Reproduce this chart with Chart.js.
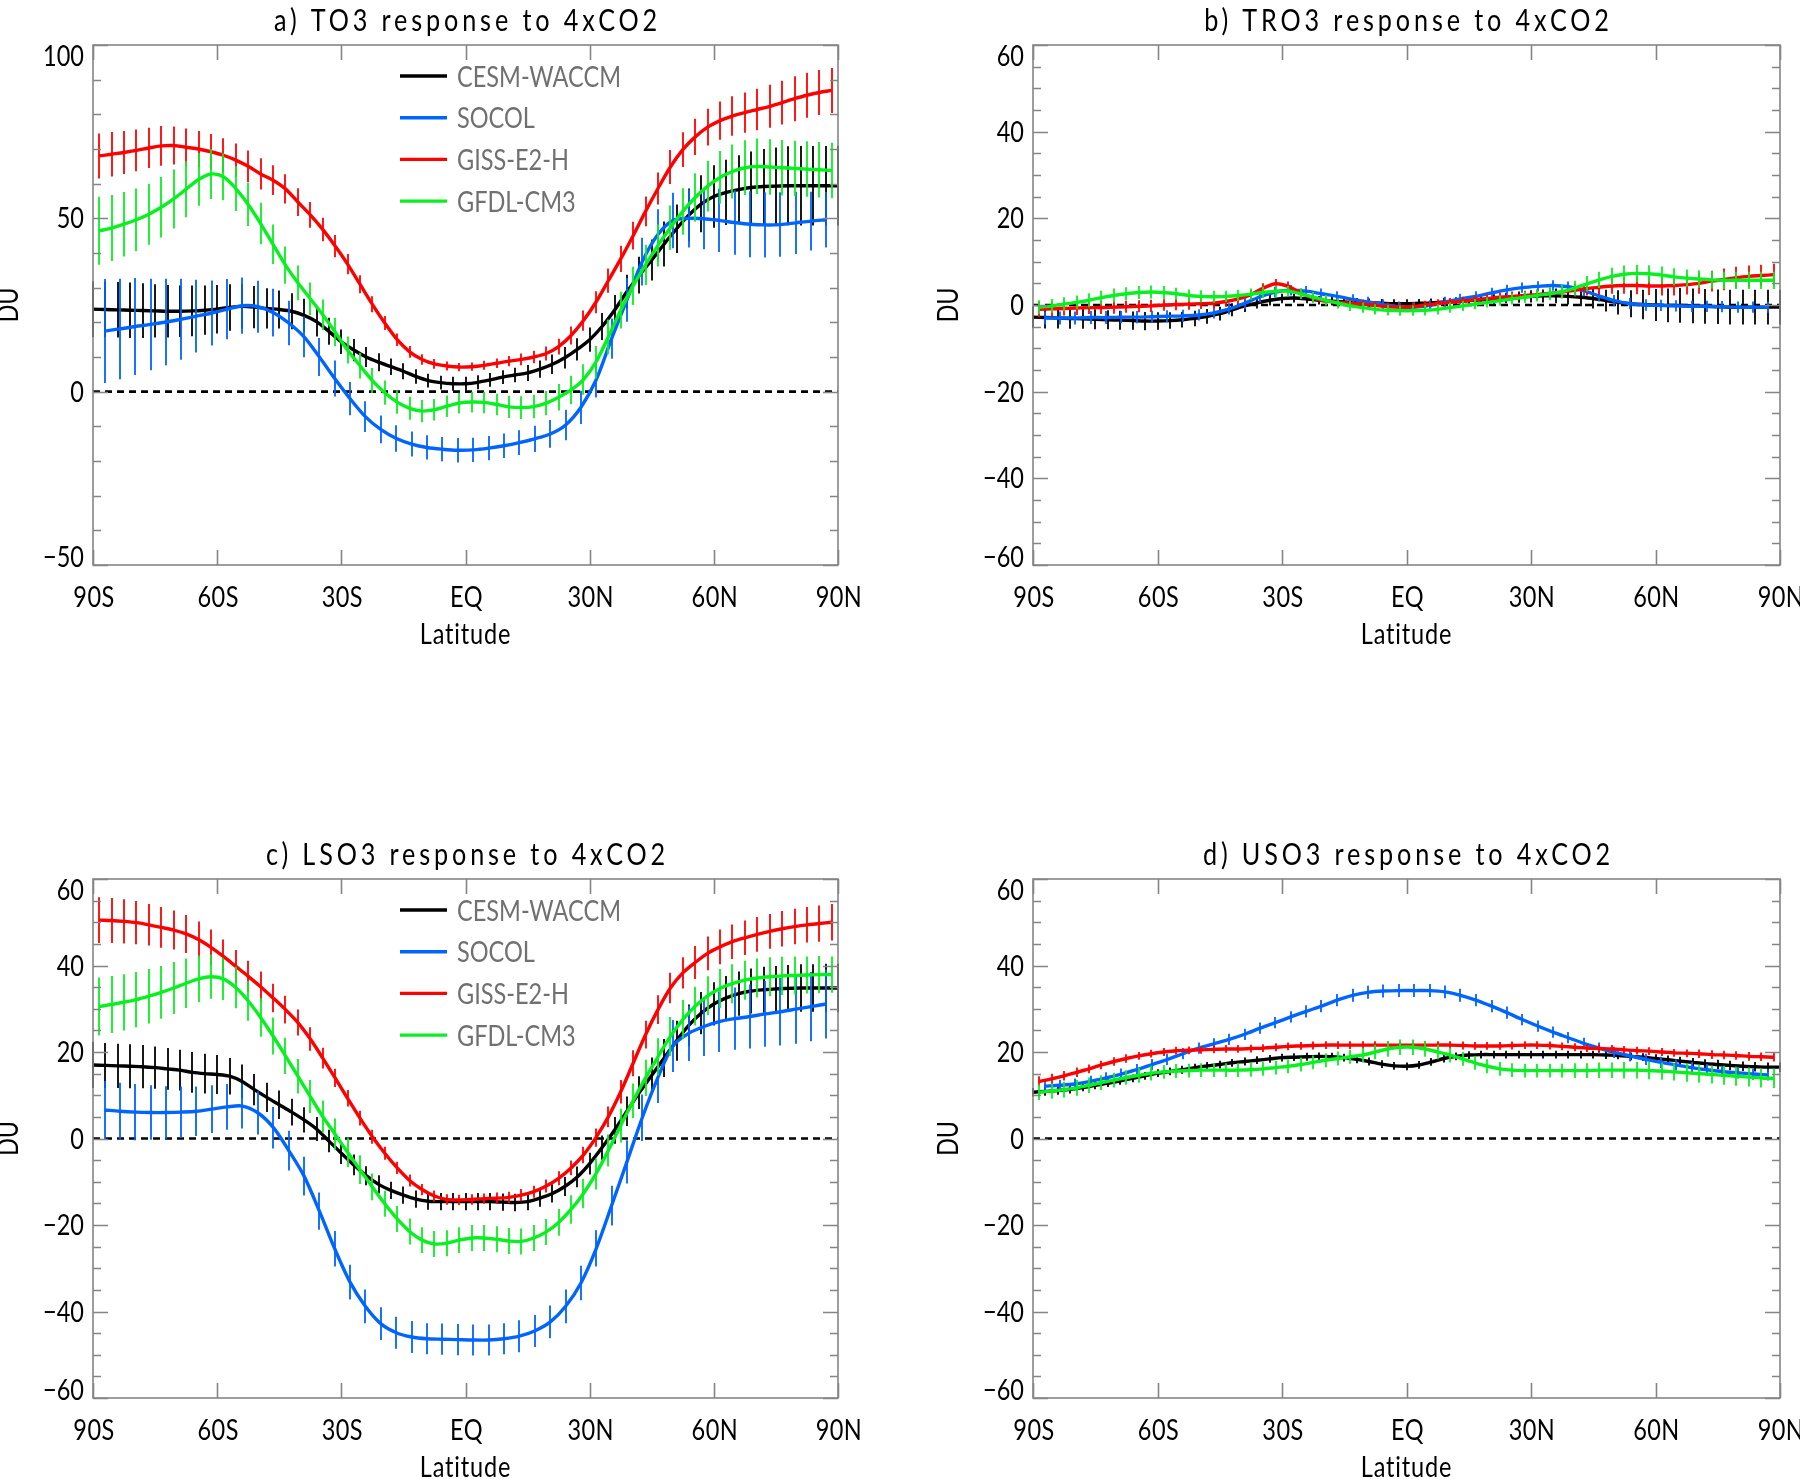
<!DOCTYPE html>
<html><head><meta charset="utf-8">
<script src="https://cdn.jsdelivr.net/npm/chart.js@4.4.1/dist/chart.umd.min.js"></script>
<style>
html,body{margin:0;padding:0;background:#fff;width:1800px;height:1479px;overflow:hidden;}
canvas{position:absolute;}
</style></head><body>
<canvas id="pa" width="900" height="700" style="left:0px;top:0px;width:900px;height:700px"></canvas>
<canvas id="pb" width="900" height="700" style="left:900px;top:0px;width:900px;height:700px"></canvas>
<canvas id="pc" width="900" height="679" style="left:0px;top:800px;width:900px;height:679px"></canvas>
<canvas id="pd" width="900" height="679" style="left:900px;top:800px;width:900px;height:679px"></canvas>
<script>
// ---------- model names / colours ----------
const models = ["CESM-WACCM", "SOCOL", "GISS-E2-H", "GFDL-CM3"];
const modelColors = ["#000000", "#0064ff", "#ff0000", "#08f020"];

// ---------- latitude grids ----------
const latCESM = [-90,-87,-84,-81,-78,-75,-72,-69,-66,-63,-60,-57,-54,-51,-48,-45,-42,-39,-36,-33,-30,-27,-24,-21,-18,-15,-12,-9,-6,-3,0,3,6,9,12,15,18,21,24,27,30,33,36,39,42,45,48,51,54,57,60,63,66,69,72,75,78,81,84,87,90];
const latSOCOL = [-87.2,-83.5,-79.8,-76.1,-72.4,-68.7,-65.0,-61.3,-57.6,-53.9,-50.1,-46.4,-42.7,-39.0,-35.3,-31.6,-27.9,-24.2,-20.5,-16.7,-13.0,-9.3,-5.6,-1.9,1.9,5.6,9.3,13.0,16.7,20.5,24.2,27.9,31.6,35.3,39.0,42.7,46.4,50.1,53.9,57.6,61.3,65.0,68.7,72.4,76.1,79.8,83.5,87.2];
const latGISS = [-88.5,-85.5,-82.5,-79.5,-76.5,-73.5,-70.5,-67.5,-64.5,-61.5,-58.5,-55.5,-52.5,-49.5,-46.5,-43.5,-40.5,-37.5,-34.5,-31.5,-28.5,-25.5,-22.5,-19.5,-16.5,-13.5,-10.5,-7.5,-4.5,-1.5,1.5,4.5,7.5,10.5,13.5,16.5,19.5,22.5,25.5,28.5,31.5,34.5,37.5,40.5,43.5,46.5,49.5,52.5,55.5,58.5,61.5,64.5,67.5,70.5,73.5,76.5,79.5,82.5,85.5,88.5];
const latGFDL = [-88.5,-85.5,-82.5,-79.5,-76.5,-73.5,-70.5,-67.5,-64.5,-61.5,-58.5,-55.5,-52.5,-49.5,-46.5,-43.5,-40.5,-37.5,-34.5,-31.5,-28.5,-25.5,-22.5,-19.5,-16.5,-13.5,-10.5,-7.5,-4.5,-1.5,1.5,4.5,7.5,10.5,13.5,16.5,19.5,22.5,25.5,28.5,31.5,34.5,37.5,40.5,43.5,46.5,49.5,52.5,55.5,58.5,61.5,64.5,67.5,70.5,73.5,76.5,79.5,82.5,85.5,88.5];

// ---------- tick labels ----------
const xTickVals = [-90,-60,-30,0,30,60,90];
const xTickLabels = ["90S","60S","30S","EQ","30N","60N","90N"];
const yTicksA = [-50,0,50,100];
const yLabelsA = ["\u221250","0","50","100"];
const yTicksB = [-60,-40,-20,0,20,40,60];
const yLabelsB = ["\u221260","\u221240","\u221220","0","20","40","60"];

// ---------- a) TO3 ----------
const to_cesm = [23.8,23.7,23.6,23.5,23.4,23.3,23.2,23.2,23.3,23.5,23.8,24.3,24.6,24.4,24.0,23.7,23.2,22.0,20.2,17.4,14.4,12.0,10.0,8.5,7.2,5.9,4.4,3.2,2.6,2.3,2.3,2.7,3.4,4.2,4.8,5.4,6.5,7.9,9.8,12.2,15.0,18.8,23.5,28.8,33.6,38.0,42.6,47.0,51.0,54.2,56.3,57.5,58.3,58.9,59.2,59.3,59.4,59.4,59.4,59.4,59.4];
const to_cesm_err = [8.0,8.0,8.0,8.0,7.9,7.7,7.6,7.4,7.3,7.1,7.0,6.7,6.4,6.1,5.8,5.5,5.2,4.8,4.3,3.9,3.5,3.2,2.9,2.6,2.4,2.3,2.1,2.0,2.0,2.0,2.0,2.0,2.0,2.0,2.1,2.3,2.5,2.8,3.1,3.2,3.5,3.9,4.4,4.9,5.3,5.9,6.5,7.0,7.6,8.2,9.0,9.4,9.9,10.4,10.8,11.1,11.4,11.5,11.5,11.5,11.5];
const to_socol = [17.5,18.1,18.8,19.4,20.1,20.9,21.8,22.7,23.8,24.8,24.5,22.8,19.8,15.8,10.0,3.8,-2.0,-7.2,-10.9,-13.5,-15.1,-16.1,-16.6,-16.9,-16.8,-16.3,-15.6,-14.7,-13.6,-12.2,-9.6,-4.5,3.5,15.3,26.5,37.5,45.2,49.4,50.0,49.9,49.4,48.8,48.3,48.1,48.2,48.7,49.2,49.6];
const to_socol_err = [15.0,14.5,14.0,13.2,12.5,11.7,10.5,9.4,8.7,8.1,7.5,6.9,6.4,5.9,5.5,5.2,4.8,4.4,4.0,3.8,3.6,3.5,3.5,3.5,3.5,3.5,3.5,3.6,3.8,4.0,4.4,4.8,5.2,5.8,6.3,6.9,7.4,8.0,8.4,8.8,9.1,9.3,9.5,9.4,9.3,9.0,8.5,8.0];
const to_giss = [68.0,68.5,69.0,69.6,70.3,70.9,71.0,70.5,70.0,69.2,68.2,66.8,65.0,62.8,61.0,58.5,54.7,51.0,46.8,42.0,36.8,31.0,25.2,19.8,15.0,11.5,9.3,8.0,7.4,7.1,7.2,7.6,8.2,8.8,9.3,10.0,11.0,13.0,16.2,20.5,25.8,32.0,38.3,45.0,52.0,58.6,64.8,69.8,73.5,76.3,78.2,79.5,80.5,81.4,82.3,83.4,84.5,85.5,86.3,86.9];
const to_giss_err = [6.5,6.4,6.2,6.0,5.8,5.7,5.5,5.4,5.2,5.1,4.9,4.8,4.6,4.5,4.3,4.2,4.0,3.7,3.4,3.2,2.9,2.6,2.3,2.0,1.8,1.7,1.5,1.4,1.3,1.2,1.2,1.3,1.4,1.5,1.7,1.8,2.0,2.3,2.6,2.9,3.2,3.5,3.8,4.0,4.3,4.6,4.9,5.0,5.2,5.3,5.5,5.7,5.8,6.0,6.2,6.3,6.5,6.5,6.5,6.5];
const to_gfdl = [46.4,47.2,48.3,49.6,51.2,53.2,55.6,58.4,61.2,62.8,62.0,58.6,54.0,48.5,42.5,36.5,31.4,26.8,22.2,17.2,12.0,7.5,3.2,-0.3,-3.0,-4.8,-5.6,-5.2,-4.2,-3.3,-3.0,-3.1,-3.7,-4.4,-4.6,-4.3,-3.3,-1.6,0.5,3.5,8.5,15.8,23.5,30.5,36.6,42.2,47.3,52.0,56.0,59.3,61.8,63.5,64.6,65.0,64.8,64.6,64.4,64.2,64.0,63.8];
const to_gfdl_err = [9.8,9.5,9.3,9.0,8.8,8.7,8.5,8.1,7.6,7.2,6.8,6.5,6.2,6.0,5.7,5.4,5.0,4.7,4.4,4.1,3.9,3.7,3.6,3.5,3.4,3.3,3.2,3.1,3.1,3.0,3.0,3.1,3.1,3.2,3.3,3.4,3.5,3.8,4.1,4.4,4.7,5.0,5.3,5.5,5.8,6.1,6.4,6.7,7.0,7.3,7.6,7.8,7.9,8.0,8.0,8.0,8.0,8.0,8.0,8.0];

// ---------- b) TRO3 ----------
const tro_cesm = [-2.8,-2.9,-3.0,-3.1,-3.2,-3.3,-3.4,-3.5,-3.6,-3.7,-3.7,-3.6,-3.4,-3.1,-2.6,-2.0,-1.1,-0.2,0.5,1.1,1.5,1.6,1.4,1.1,0.9,0.7,0.6,0.5,0.4,0.3,0.3,0.4,0.5,0.7,0.8,1.0,1.2,1.4,1.6,1.8,2.0,2.1,2.1,2.0,1.8,1.5,1.0,0.6,0.3,0.1,0.0,-0.1,-0.1,-0.2,-0.3,-0.4,-0.5,-0.5,-0.5,-0.5,-0.5];
const tro_cesm_err = [2.5,2.5,2.4,2.4,2.3,2.3,2.2,2.2,2.1,2.1,2.0,1.9,1.8,1.8,1.7,1.6,1.5,1.4,1.3,1.2,1.1,1.0,1.0,1.0,1.0,1.0,1.0,1.0,1.0,1.0,1.0,1.0,1.0,1.0,1.0,1.0,1.0,1.1,1.2,1.3,1.4,1.5,1.7,1.9,2.1,2.3,2.5,2.8,3.1,3.4,3.7,3.9,4.0,4.0,4.0,4.0,4.0,4.0,4.0,4.0,4.0];
const tro_socol = [-3.0,-3.0,-3.0,-2.9,-2.9,-2.8,-2.8,-2.7,-2.6,-2.5,-2.3,-1.8,-0.9,0.4,1.9,3.0,3.4,3.2,2.6,2.0,1.3,0.7,0.1,-0.4,-0.5,-0.1,0.7,1.4,2.0,2.8,3.5,4.0,4.3,4.5,4.2,3.3,2.1,1.0,0.3,0.0,-0.1,-0.2,-0.3,-0.3,-0.4,-0.5,-0.5,-0.5];
const tro_socol_err = [1.5,1.5,1.5,1.5,1.5,1.4,1.4,1.4,1.4,1.4,1.3,1.3,1.3,1.3,1.3,1.2,1.2,1.2,1.2,1.2,1.2,1.2,1.2,1.2,1.2,1.2,1.2,1.2,1.2,1.2,1.2,1.2,1.2,1.2,1.2,1.3,1.3,1.3,1.3,1.3,1.3,1.3,1.3,1.3,1.3,1.3,1.3,1.3];
const tro_giss = [-1.0,-0.9,-0.8,-0.7,-0.6,-0.6,-0.5,-0.4,-0.3,-0.2,0.0,0.1,0.2,0.3,0.4,0.8,1.4,2.4,3.9,4.9,4.3,2.8,1.6,0.9,0.6,0.4,0.2,-0.1,-0.4,-0.5,-0.4,0.0,0.3,0.6,0.9,1.2,1.5,1.8,2.0,2.2,2.4,2.7,3.0,3.4,3.8,4.1,4.4,4.5,4.5,4.4,4.4,4.5,4.7,5.0,5.5,5.9,6.3,6.6,6.8,7.0];
const tro_giss_err = [1.8,1.7,1.6,1.6,1.5,1.5,1.5,1.4,1.4,1.4,1.3,1.3,1.3,1.2,1.2,1.2,1.2,1.2,1.1,1.1,1.1,1.0,1.0,1.0,1.0,1.0,1.0,1.0,1.0,1.0,1.0,1.0,1.0,1.0,1.0,1.0,1.0,1.0,1.1,1.1,1.2,1.3,1.4,1.5,1.6,1.7,1.8,1.9,2.0,2.1,2.2,2.3,2.3,2.4,2.4,2.5,2.5,2.5,2.5,2.5];
const tro_gfdl = [-0.5,-0.2,0.2,0.6,1.1,1.7,2.2,2.6,2.9,3.0,2.9,2.6,2.2,2.0,1.9,2.0,2.2,2.5,2.9,3.2,3.2,2.6,1.8,1.1,0.4,-0.2,-0.6,-1.0,-1.2,-1.3,-1.3,-1.2,-1.0,-0.6,-0.2,0.2,0.6,1.0,1.4,1.8,2.2,2.6,3.1,3.9,4.9,5.8,6.6,7.1,7.3,7.2,6.9,6.5,6.2,6.0,5.8,5.7,5.7,5.7,5.7,5.7];
const tro_gfdl_err = [1.6,1.6,1.6,1.6,1.6,1.6,1.6,1.5,1.5,1.5,1.5,1.4,1.4,1.4,1.4,1.3,1.3,1.3,1.3,1.3,1.2,1.2,1.2,1.2,1.2,1.2,1.2,1.2,1.2,1.2,1.2,1.2,1.2,1.2,1.2,1.2,1.2,1.2,1.3,1.3,1.4,1.5,1.6,1.7,1.8,1.9,2.0,2.0,2.0,2.0,2.0,2.0,2.0,2.0,2.0,2.0,2.0,2.0,2.0,2.0];

// ---------- c) LSO3 ----------
const lso_cesm = [17.0,16.9,16.8,16.7,16.6,16.4,16.1,15.8,15.3,15.0,14.8,14.4,13.2,11.3,9.5,7.8,6.1,4.3,2.2,-0.6,-3.4,-6.1,-8.6,-10.6,-12.0,-13.1,-14.0,-14.5,-14.6,-14.6,-14.6,-14.6,-14.6,-14.7,-14.8,-14.6,-13.8,-12.7,-11.1,-8.9,-5.8,-2.1,1.9,6.3,10.6,14.6,18.6,22.6,26.2,29.0,31.1,32.5,33.5,34.1,34.4,34.6,34.7,34.8,34.8,34.8,34.8];
const lso_cesm_err = [5.3,5.2,5.1,5.1,5.0,4.9,4.8,4.7,4.7,4.6,4.5,4.2,3.9,3.6,3.4,3.3,3.1,2.9,2.8,2.6,2.5,2.4,2.2,2.1,2.0,2.0,2.0,2.0,2.0,2.0,2.0,2.0,2.0,2.0,2.0,2.0,2.0,2.1,2.2,2.4,2.5,2.8,3.1,3.4,3.8,4.1,4.4,4.6,4.8,4.9,5.0,5.1,5.1,5.2,5.3,5.3,5.4,5.5,5.5,5.6,5.6];
const lso_socol = [6.6,6.3,6.1,6.0,6.0,6.1,6.3,6.8,7.3,7.5,5.9,2.5,-2.8,-8.7,-16.8,-25.5,-33.2,-38.8,-42.8,-44.9,-45.9,-46.3,-46.4,-46.5,-46.6,-46.6,-46.3,-45.7,-44.5,-42.4,-38.8,-33.4,-25.4,-15.5,-5.4,4.8,13.9,21.4,24.3,25.9,27.0,27.7,28.2,28.8,29.3,29.9,30.5,31.1];
const lso_socol_err = [6.7,6.6,6.5,6.3,6.1,5.9,5.7,5.5,5.3,5.2,5.0,4.8,4.6,4.5,4.3,4.1,4.0,3.9,3.8,3.7,3.7,3.6,3.6,3.6,3.6,3.6,3.6,3.7,3.7,3.8,3.9,4.0,4.2,4.6,5.0,5.4,5.7,6.0,6.4,6.8,7.0,7.2,7.4,7.6,7.8,8.0,8.0,8.0];
const lso_giss = [50.5,50.4,50.2,49.9,49.4,48.8,48.2,47.3,46.0,44.2,42.1,39.8,37.5,35.1,32.5,29.8,26.8,23.0,18.6,14.0,9.3,4.7,0.4,-3.4,-6.8,-9.7,-11.8,-13.3,-14.1,-14.2,-14.1,-13.9,-13.8,-13.6,-13.1,-12.3,-11.0,-9.2,-6.8,-3.8,0.2,5.0,10.8,17.4,24.0,29.8,34.8,38.3,40.7,42.8,44.3,45.5,46.4,47.2,47.9,48.5,49.0,49.4,49.7,50.0];
const lso_giss_err = [5.3,5.2,5.1,5.0,4.8,4.7,4.5,4.4,4.2,4.1,3.9,3.8,3.6,3.5,3.3,3.2,3.0,2.7,2.4,2.1,1.9,1.7,1.6,1.5,1.4,1.4,1.3,1.3,1.2,1.2,1.2,1.2,1.3,1.3,1.4,1.4,1.5,1.6,1.7,1.9,2.1,2.4,2.7,3.0,3.2,3.3,3.5,3.6,3.8,3.9,4.0,4.0,4.0,4.0,4.0,4.1,4.1,4.1,4.2,4.2];
const lso_gfdl = [30.5,31.0,31.5,32.1,32.9,33.8,34.8,35.9,36.9,37.4,36.9,34.9,31.8,28.0,23.7,19.1,14.4,9.7,5.1,1.0,-3.2,-7.2,-11.2,-15.1,-18.6,-21.5,-23.5,-24.4,-24.2,-23.5,-23.0,-23.0,-23.3,-23.7,-23.8,-23.0,-21.6,-19.4,-16.4,-12.7,-8.2,-2.8,3.0,8.7,14.0,18.9,23.6,27.5,30.6,33.0,34.7,35.8,36.6,37.1,37.4,37.6,37.7,37.8,37.9,37.9];
const lso_gfdl_err = [6.7,6.6,6.5,6.4,6.3,6.1,6.0,5.7,5.4,5.1,4.9,4.8,4.6,4.5,4.3,4.2,4.0,3.8,3.7,3.6,3.4,3.3,3.1,3.0,3.0,3.0,3.0,3.0,3.0,3.0,3.0,3.0,3.0,3.0,3.0,3.0,3.0,3.1,3.3,3.4,3.6,3.7,3.9,4.0,4.2,4.3,4.5,4.5,4.5,4.5,4.5,4.5,4.5,4.5,4.5,4.4,4.4,4.3,4.3,4.2];

// ---------- d) USO3 ----------
const uso_cesm = [10.7,10.9,11.1,11.4,11.8,12.3,12.8,13.3,13.9,14.5,15.1,15.5,15.9,16.4,16.8,17.1,17.5,17.8,18.1,18.4,18.7,18.8,18.9,19.0,18.9,18.7,18.3,17.8,17.2,16.8,16.7,17.0,17.7,18.5,19.0,19.3,19.4,19.4,19.4,19.4,19.4,19.4,19.4,19.4,19.4,19.4,19.3,19.2,19.0,18.8,18.5,18.2,17.9,17.6,17.3,17.1,16.9,16.7,16.6,16.5,16.5];
const uso_cesm_err = [1.0,1.0,1.0,1.0,0.9,0.9,0.9,0.9,0.9,0.9,0.9,0.9,0.9,0.9,0.9,0.9,0.9,0.9,0.9,0.9,0.9,0.9,0.9,0.9,0.9,0.9,0.9,0.9,0.9,0.9,0.9,0.9,0.9,0.9,0.9,0.9,0.9,0.9,0.9,0.9,0.9,0.9,0.9,0.9,0.9,0.9,0.9,0.9,0.9,0.9,1.0,1.0,1.0,1.0,1.0,1.1,1.1,1.1,1.1,1.1,1.1];
const uso_socol = [12.1,12.3,12.6,13.2,14.0,14.9,15.9,17.1,18.3,19.6,20.9,21.9,22.9,24.1,25.5,26.8,28.1,29.4,30.6,32.0,33.1,33.8,34.1,34.2,34.2,34.2,33.9,33.1,32.0,30.6,29.1,27.5,26.0,24.6,23.3,22.0,20.9,19.9,19.1,18.3,17.6,17.0,16.4,15.9,15.5,15.2,14.9,14.7];
const uso_socol_err = [1.3,1.3,1.3,1.3,1.3,1.3,1.3,1.3,1.3,1.3,1.3,1.3,1.3,1.3,1.3,1.3,1.3,1.4,1.4,1.4,1.5,1.5,1.5,1.5,1.5,1.5,1.5,1.5,1.4,1.4,1.4,1.3,1.3,1.3,1.3,1.3,1.3,1.3,1.3,1.3,1.3,1.3,1.3,1.3,1.3,1.3,1.3,1.3];
const uso_giss = [13.2,13.8,14.5,15.3,16.1,17.0,17.8,18.5,19.1,19.6,20.0,20.3,20.4,20.5,20.6,20.7,20.7,20.8,20.9,21.1,21.3,21.4,21.5,21.6,21.6,21.6,21.6,21.6,21.6,21.6,21.6,21.6,21.6,21.6,21.5,21.4,21.4,21.4,21.5,21.6,21.6,21.5,21.3,21.1,20.9,20.8,20.7,20.5,20.3,20.2,20.0,19.8,19.7,19.6,19.4,19.3,19.2,19.0,18.9,18.8];
const uso_giss_err = [1.2,1.2,1.1,1.1,1.0,1.0,1.0,1.0,0.9,0.9,0.9,0.9,0.9,0.9,0.9,0.9,0.9,0.9,0.9,0.9,0.9,0.9,0.9,0.9,0.9,0.9,0.9,0.9,0.9,0.9,0.9,0.9,0.9,0.9,0.9,0.9,0.9,0.9,0.9,0.9,0.9,0.9,0.9,0.9,0.9,0.9,0.9,0.9,0.9,0.9,0.9,0.9,0.9,1.0,1.0,1.0,1.0,1.0,1.0,1.0];
const uso_gfdl = [10.7,11.0,11.3,11.7,12.3,12.9,13.5,14.1,14.6,15.1,15.4,15.6,15.7,15.8,15.8,15.8,15.8,15.9,16.1,16.4,16.7,17.1,17.6,18.1,18.5,18.9,19.3,20.0,20.7,21.1,21.1,20.7,20.0,19.3,18.4,17.5,16.7,16.1,15.8,15.7,15.7,15.7,15.7,15.7,15.7,15.8,15.8,15.8,15.8,15.7,15.6,15.4,15.2,15.0,14.8,14.6,14.4,14.2,14.0,13.9];
const uso_gfdl_err = [1.8,1.8,1.8,1.8,1.8,1.7,1.7,1.7,1.7,1.7,1.6,1.6,1.6,1.6,1.6,1.6,1.6,1.6,1.6,1.6,1.6,1.6,1.6,1.6,1.6,1.6,1.7,1.7,1.8,1.8,1.8,1.8,1.7,1.7,1.6,1.6,1.6,1.6,1.6,1.6,1.6,1.6,1.6,1.7,1.7,1.8,1.8,1.9,1.9,2.0,2.0,2.0,2.1,2.1,2.1,2.2,2.2,2.2,2.2,2.2];

// ---------- drawing helpers ----------
const FONT = 'Lato,"Liberation Sans","DejaVu Sans",sans-serif';
const SX = 0.84; // horizontal squeeze to mimic the narrow plotting font

function pts(lat, vals) { return lat.map((x, i) => ({ x: x, y: vals[i] })); }

function txt(ctx, s, x, y, align, font, spacing, color) {
  ctx.save();
  ctx.font = font;
  ctx.letterSpacing = spacing;
  ctx.fillStyle = color;
  ctx.textAlign = align;
  ctx.textBaseline = 'alphabetic';
  ctx.translate(x, y);
  ctx.scale(SX, 1);
  ctx.fillText(s, 0, 0);
  ctx.restore();
}

const idlFrame = {
  id: 'idlFrame',
  beforeDatasetsDraw(chart) {
    const { ctx, chartArea: a } = chart;
    const y0 = chart.scales.y.getPixelForValue(0);
    ctx.save();
    ctx.strokeStyle = '#000'; ctx.lineWidth = 2.6; ctx.setLineDash([7, 5]);
    ctx.beginPath(); ctx.moveTo(a.left, y0); ctx.lineTo(a.right, y0); ctx.stroke();
    ctx.restore();
  },
  afterDatasetDraw(chart, args) {
    const ds = chart.data.datasets[args.index];
    const err = ds.err; if (!err) return;
    const ctx = chart.ctx, xs = chart.scales.x, ys = chart.scales.y;
    ctx.save();
    ctx.strokeStyle = ds.borderColor; ctx.lineWidth = 1.8;
    ctx.beginPath();
    ds.data.forEach((p, i) => {
      if (err[i] == null || p.y == null) return;
      const px = Math.round(xs.getPixelForValue(p.x));
      ctx.moveTo(px, ys.getPixelForValue(p.y - err[i]));
      ctx.lineTo(px, ys.getPixelForValue(p.y + err[i]));
    });
    ctx.stroke();
    ctx.restore();
  },
  afterDraw(chart) {
    const o = chart.options.plugins.idlFrame;
    const { ctx, chartArea: a } = chart;
    const xs = chart.scales.x, ys = chart.scales.y;
    ctx.save();
    ctx.strokeStyle = '#858585'; ctx.lineWidth = 1.6; ctx.setLineDash([]);
    ctx.strokeRect(a.left, a.top, a.right - a.left, a.bottom - a.top);
    ctx.beginPath();
    for (let v = o.yMin; v <= o.yMax + 1e-9; v += o.yMinor) {
      const py = Math.round(ys.getPixelForValue(v)) + 0.5;
      const L = o.yTicks.includes(Math.round(v)) ? 15 : 8;
      ctx.moveTo(a.left, py); ctx.lineTo(a.left + L, py);
      ctx.moveTo(a.right, py); ctx.lineTo(a.right - L, py);
    }
    xTickVals.forEach(v => {
      const px = Math.round(xs.getPixelForValue(v)) + 0.5;
      ctx.moveTo(px, a.bottom); ctx.lineTo(px, a.bottom - 15);
      ctx.moveTo(px, a.top); ctx.lineTo(px, a.top + 15);
    });
    ctx.stroke();
    ctx.restore();

    const F28 = '28px ' + FONT;
    o.yTicks.forEach((v, i) => {
      const py = ys.getPixelForValue(v);
      let base = py + 10;
      if (v === o.yMax) base = a.top + 21;
      if (v === o.yMin) base = a.bottom + 2;
      txt(ctx, o.yLabels[i], a.left - 9, base, 'right', F28, '0px', '#000');
    });
    xTickVals.forEach((v, i) => {
      txt(ctx, xTickLabels[i], xs.getPixelForValue(v) + 1, a.bottom + 42, 'center', F28, '0.5px', '#000');
    });
    const cx = (a.left + a.right) / 2;
    txt(ctx, 'Latitude', cx, a.bottom + 79, 'center', F28, '1px', '#000');
    ctx.save();
    ctx.translate(a.left - 75, (a.top + a.bottom) / 2);
    ctx.rotate(-Math.PI / 2);
    ctx.font = F28; ctx.fillStyle = '#000'; ctx.textAlign = 'center'; ctx.textBaseline = 'alphabetic';
    ctx.scale(SX, 1);
    ctx.fillText('DU', 0, 0);
    ctx.restore();
    txt(ctx, o.title, cx + 2, a.top - 14, 'center', '30px ' + FONT, '4.6px', '#000');
    if (o.legend) {
      models.forEach((m, i) => {
        const ly = a.top + 31 + i * 41.7;
        ctx.save();
        ctx.strokeStyle = modelColors[i]; ctx.lineWidth = 3.4;
        ctx.beginPath(); ctx.moveTo(a.left + 307, ly); ctx.lineTo(a.left + 354, ly); ctx.stroke();
        ctx.restore();
        txt(ctx, m, a.left + 364, ly + 10.5, 'left', '28px ' + FONT, '0px', '#707070');
      });
    }
  }
};

function makePanel(id, title, series, yMin, yMax, yMinor, yTicks, yLabels, legend, pad) {
  const lats = [latCESM, latSOCOL, latGISS, latGFDL];
  const datasets = series.map((s, i) => ({
    label: models[i],
    data: pts(lats[i], s[0]),
    err: s[1],
    borderColor: modelColors[i],
    backgroundColor: modelColors[i],
    borderWidth: 3.4,
    pointRadius: 0,
    tension: 0.3,
    fill: false,
    order: 3 - i
  }));
  new Chart(document.getElementById(id), {
    type: 'line',
    data: { datasets },
    plugins: [idlFrame],
    options: {
      responsive: false, animation: false, devicePixelRatio: 1,
      layout: { padding: pad },
      scales: {
        x: { type: 'linear', min: -90, max: 90, display: false },
        y: { type: 'linear', min: yMin, max: yMax, display: false }
      },
      plugins: {
        legend: { display: false }, tooltip: { enabled: false }, title: { display: false },
        idlFrame: { title, yMin, yMax, yMinor, yTicks, yLabels, legend }
      }
    }
  });
}

const padLeftCol = { left: 93, right: 62, top: 45, bottom: 135 };
const padRightCol = { left: 133, right: 20, top: 45, bottom: 135 };
const padLeftColB = { left: 93, right: 62, top: 79, bottom: 81 };
const padRightColB = { left: 133, right: 20, top: 79, bottom: 81 };

makePanel('pa', 'a) TO3 response to 4xCO2',
  [[to_cesm, to_cesm_err], [to_socol, to_socol_err], [to_giss, to_giss_err], [to_gfdl, to_gfdl_err]],
  -50, 100, 10, yTicksA, yLabelsA, true, padLeftCol);
makePanel('pb', 'b) TRO3 response to 4xCO2',
  [[tro_cesm, tro_cesm_err], [tro_socol, tro_socol_err], [tro_giss, tro_giss_err], [tro_gfdl, tro_gfdl_err]],
  -60, 60, 5, yTicksB, yLabelsB, false, padRightCol);
makePanel('pc', 'c) LSO3 response to 4xCO2',
  [[lso_cesm, lso_cesm_err], [lso_socol, lso_socol_err], [lso_giss, lso_giss_err], [lso_gfdl, lso_gfdl_err]],
  -60, 60, 5, yTicksB, yLabelsB, true, padLeftColB);
makePanel('pd', 'd) USO3 response to 4xCO2',
  [[uso_cesm, uso_cesm_err], [uso_socol, uso_socol_err], [uso_giss, uso_giss_err], [uso_gfdl, uso_gfdl_err]],
  -60, 60, 5, yTicksB, yLabelsB, false, padRightColB);
</script>
</body></html>
